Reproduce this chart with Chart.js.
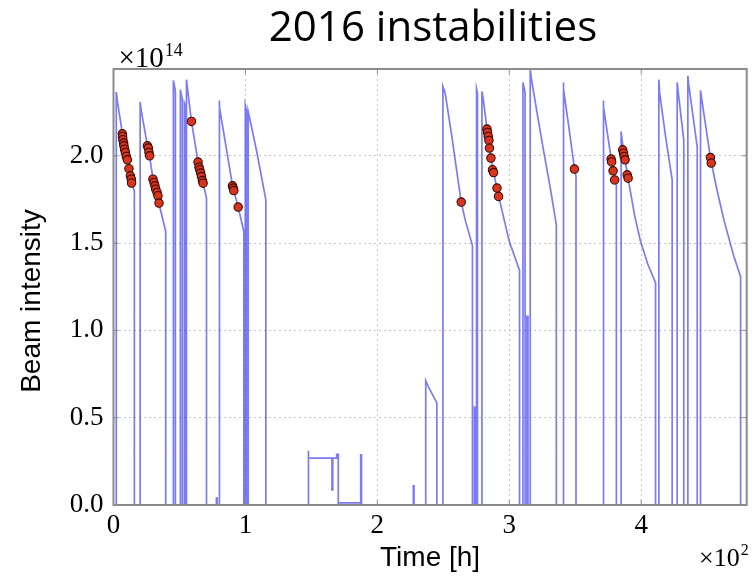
<!DOCTYPE html>
<html>
<head>
<meta charset="utf-8">
<script src="https://cdn.jsdelivr.net/npm/chart.js@4/dist/chart.umd.min.js"></script>
<style>
  html, body { margin: 0; padding: 0; background: #ffffff; }
  #wrap { width: 752px; height: 576px; }
</style>
</head>
<body>
<div id="wrap"><canvas id="chart" width="752" height="576"></canvas></div>
<script>
// Beam intensity trace: time in hours, intensity in units of 1e14 protons
const beamTime = [
  0, 2.1, 2.1, 3.0, 6.7, 10.5, 13.7, 15.8, 15.8,
  20.2, 20.2, 21.0, 25.7, 27.4, 29.9, 34.5, 39.6, 39.6,
  45.4, 45.4, 46.9, 46.9,
  50.7, 50.7, 52.2, 52.2, 53.8, 53.8, 54.3, 54.3,
  55.3, 55.3, 56.0, 59.1, 64.1, 67.9, 70.5, 70.5,
  78.0, 78.0, 78.6, 78.6,
  80.0, 80.0, 80.6, 86.0, 90.2, 94.5, 98.8, 98.8,
  99.9, 99.9, 100.8, 100.8, 102.1, 102.1, 102.8, 108.4, 115.5, 115.5,
  147.6, 147.6, 148.0, 165.6, 165.6, 166.2, 166.2, 169.2, 169.2, 170.4, 170.4,
  170.4, 187.4, 187.4, 188.0, 188.0,
  227.3, 227.3, 227.8, 227.8,
  236.7, 236.7, 239.2, 245.1, 245.1,
  249.7, 249.7, 251.4, 256.5, 261.5, 263.6, 266.6, 272.1, 272.1,
  273.6, 273.6, 274.2, 274.2, 275.2, 275.2, 275.9, 275.9,
  279.3, 279.3, 280.2, 283.1, 286.1, 288.1, 291.9, 300.0, 307.8, 307.8,
  310.4, 310.4, 312.0, 312.0, 313.4, 313.4, 314.2, 314.2,
  315.9, 315.9, 316.6, 321.0, 326.0, 331.0, 335.7, 335.7,
  340.8, 340.8, 341.5, 345.1, 349.4, 350.6, 350.6,
  371.1, 371.1, 371.8, 377.2, 379.9, 381.2, 381.2,
  384.8, 384.8, 385.5, 387.8, 390.1, 395.0, 399.5, 405.0, 410.9, 410.9,
  413.4, 413.4, 414.0, 418.5, 423.5, 423.5,
  427.3, 427.3, 428.0, 432.3, 432.3,
  435.4, 435.4, 436.0, 442.5, 442.5,
  445.0, 445.0, 445.8, 452.5, 457.0, 462.7, 470.3, 475.4, 475.4,
  480.0
];
const beamIntensity = [
  0, 0, 2.365, 2.31, 2.13, 1.975, 1.845, 1.80, 0,
  0, 2.308, 2.26, 2.06, 1.995, 1.87, 1.725, 1.566, 0,
  0, 2.432, 2.37, 0,
  0, 2.378, 2.32, 0, 0, 2.30, 2.29, 0,
  0, 2.436, 2.39, 2.197, 1.965, 1.843, 1.758, 0,
  0, 0.04, 0.04, 0,
  0, 2.317, 2.28, 2.02, 1.83, 1.706, 1.566, 0,
  0, 2.29, 2.26, 0, 0, 2.254, 2.23, 2.03, 1.748, 0,
  0, 0.311, 0.268, 0.268, 0.086, 0.086, 0.268, 0.268, 0.29, 0.29, 0,
  0.012, 0.012, 0.287, 0.287, 0,
  0, 0.109, 0.109, 0,
  0, 0.712, 0.669, 0.586, 0,
  0, 2.397, 2.36, 2.11, 1.843, 1.735, 1.633, 1.486, 0,
  0, 0.56, 0.56, 0, 0, 2.384, 2.36, 0,
  0, 2.368, 2.33, 2.155, 1.99, 1.905, 1.77, 1.51, 1.343, 0,
  0, 2.42, 2.36, 0, 0, 1.08, 1.08, 0,
  0, 2.493, 2.45, 2.25, 2.03, 1.82, 1.605, 0,
  0, 2.42, 2.38, 2.168, 1.93, 1.88, 0,
  0, 2.317, 2.28, 1.985, 1.86, 1.84, 0,
  0, 2.139, 2.09, 1.975, 1.87, 1.66, 1.51, 1.38, 1.274, 0,
  0, 2.436, 2.36, 2.11, 1.862, 0,
  0, 2.42, 2.37, 2.09, 0,
  0, 2.458, 2.41, 2.05, 0,
  0, 2.374, 2.33, 1.99, 1.82, 1.633, 1.423, 1.308, 0,
  0
];

// Recorded instabilities
const instabilityTime = [
  6.7, 6.9, 7.1, 7.7, 7.9, 8.4, 9.0, 9.7, 10.5, 11.7, 12.8, 13.5, 13.7,
  25.7, 26.4, 26.9, 27.4, 29.9, 30.7, 31.4, 32.0, 33.0, 33.7, 34.5,
  59.1, 64.1, 64.8, 65.4, 66.1, 66.7, 67.4, 67.9,
  90.2, 90.7, 91.2, 94.5,
  263.6,
  283.1, 283.5, 284.1, 284.6, 285.0, 286.1, 287.3, 288.1, 290.7, 291.9,
  349.4,
  377.2, 377.6, 378.7, 379.9,
  386.0, 386.6, 387.1, 387.8, 389.4, 390.1,
  452.5, 453.1
];
const instabilityIntensity = [
  2.126, 2.111, 2.092, 2.073, 2.057, 2.038, 2.019, 1.996, 1.977, 1.926, 1.885, 1.866, 1.844,
  2.057, 2.044, 2.019, 2.0, 1.866, 1.847, 1.828, 1.809, 1.79, 1.771, 1.729,
  2.197, 1.964, 1.935, 1.92, 1.901, 1.881, 1.858, 1.843,
  1.828, 1.815, 1.801, 1.706,
  1.735,
  2.153, 2.134, 2.111, 2.088, 2.044, 1.987, 1.920, 1.904, 1.815, 1.767,
  1.924,
  1.981, 1.965, 1.914, 1.862,
  2.034, 2.015, 1.996, 1.977, 1.891, 1.872,
  1.99, 1.958
];

// Axis ticks
const timeTicks = [0, 100, 200, 300, 400];
const timeTickLabels = ['0', '1', '2', '3', '4'];
const intensityTicks = [0, 0.5, 1.0, 1.5, 2.0];
const intensityTickLabels = ['0.0', '0.5', '1.0', '1.5', '2.0'];

const serif = "'Liberation Serif', 'DejaVu Serif', serif";
const sans = "'Liberation Sans', Arial, sans-serif";

// Frame, inward tick marks, title, y-axis title and axis multipliers
const decorations = {
  id: 'decorations',
  afterDatasetsDraw(chart) {
    const { ctx, chartArea: a, scales: { x, y } } = chart;
    ctx.save();
    ctx.strokeStyle = '#8c8c8c';
    ctx.lineWidth = 1;
    const t = 5;
    ctx.beginPath();
    timeTicks.forEach(v => {
      const px = x.getPixelForValue(v);
      ctx.moveTo(px, a.bottom); ctx.lineTo(px, a.bottom - t);
      ctx.moveTo(px, a.top); ctx.lineTo(px, a.top + t);
    });
    intensityTicks.forEach(v => {
      const py = y.getPixelForValue(v);
      ctx.moveTo(a.left, py); ctx.lineTo(a.left + t, py);
      ctx.moveTo(a.right, py); ctx.lineTo(a.right - t, py);
    });
    ctx.stroke();
    ctx.lineWidth = 2;
    ctx.strokeRect(a.left, a.top, a.right - a.left, a.bottom - a.top);
    ctx.restore();
  },
  afterDraw(chart) {
    const { ctx, chartArea: a } = chart;
    ctx.save();
    ctx.fillStyle = '#000';
    ctx.textBaseline = 'alphabetic';
    ctx.textAlign = 'center';
    ctx.font = "42px 'Open Sans', sans-serif";
    ctx.fillText('2016 instabilities', 433, 41);

    // y-axis title
    ctx.save();
    ctx.translate(32, 301);
    ctx.rotate(-Math.PI / 2);
    ctx.textBaseline = 'middle';
    ctx.font = '28px ' + sans;
    ctx.fillText('Beam intensity', 0, 0);
    ctx.restore();

    ctx.textAlign = 'left';
    ctx.font = '29px ' + serif;
    ctx.fillText('\u00d710', a.left + 5, 67);
    let w = ctx.measureText('\u00d710').width;
    ctx.font = '18px ' + serif;
    ctx.fillText('14', a.left + 5 + w + 1, 56);

    ctx.font = '26px ' + serif;
    ctx.fillText('\u00d710', 699, 566);
    w = ctx.measureText('\u00d710').width;
    ctx.font = '16px ' + serif;
    ctx.fillText('2', 699 + w + 1, 555);
    ctx.restore();
  }
};

const beamPoints = beamTime.map((t, i) => ({ x: t, y: beamIntensity[i] }));
const instabilityPoints = instabilityTime.map((t, i) => ({ x: t, y: instabilityIntensity[i] }));

new Chart(document.getElementById('chart'), {
  data: {
    datasets: [
      {
        type: 'line',
        data: beamPoints,
        borderColor: 'rgba(60, 60, 238, 0.68)',
        borderWidth: 1.7,
        pointRadius: 0,
        tension: 0,
        fill: false,
        order: 2
      },
      {
        type: 'scatter',
        data: instabilityPoints,
        pointRadius: 4.2,
        pointBackgroundColor: '#d8341e',
        pointBorderColor: '#3c0a04',
        pointBorderWidth: 1.1,
        order: 1
      }
    ]
  },
  options: {
    responsive: false,
    animation: false,
    events: [],
    layout: { padding: { top: 69, right: 5, left: 0, bottom: 0 } },
    plugins: { legend: { display: false }, tooltip: { enabled: false } },
    scales: {
      x: {
        type: 'linear',
        min: 0,
        max: 480,
        afterBuildTicks: s => { s.ticks = timeTicks.map(v => ({ value: v })); },
        afterFit: s => { s.height = 71; },
        grid: { color: '#c4c4c4', lineWidth: 1, drawTicks: false },
        border: { display: false, dash: [2, 3] },
        ticks: {
          padding: 5,
          color: '#000',
          font: { family: serif, size: 27 },
          maxRotation: 0,
          callback: v => timeTickLabels[timeTicks.indexOf(v)]
        },
        title: {
          display: true,
          text: 'Time [h]',
          color: '#000',
          font: { family: sans, size: 28 },
          padding: { top: 0, bottom: 1 }
        }
      },
      y: {
        type: 'linear',
        min: 0,
        max: 2.497,
        afterBuildTicks: s => { s.ticks = intensityTicks.map(v => ({ value: v })); },
        afterFit: s => { s.width = 113.5; },
        grid: { color: '#c4c4c4', lineWidth: 1, drawTicks: false },
        border: { display: false, dash: [2, 3] },
        ticks: {
          padding: 10,
          color: '#000',
          font: { family: serif, size: 27 },
          callback: v => intensityTickLabels[intensityTicks.indexOf(v)]
        }
      }
    }
  },
  plugins: [decorations]
});
</script>
</body>
</html>
